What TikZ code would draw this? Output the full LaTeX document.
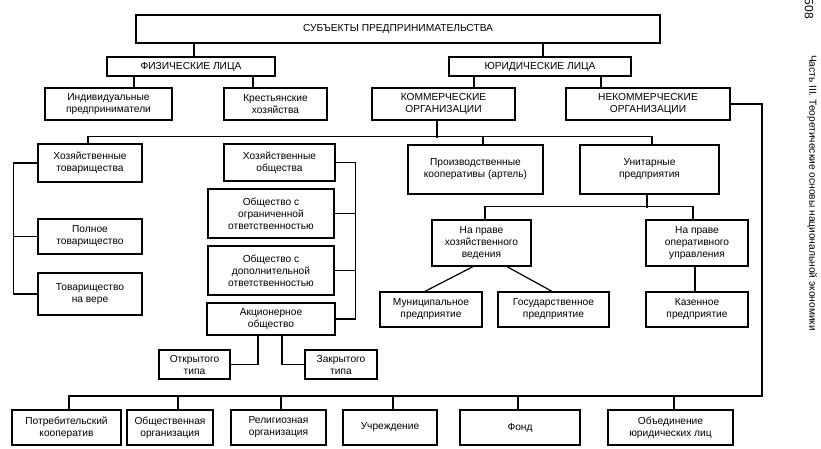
\documentclass[tikz,border=0pt]{standalone}
\usepackage{fontspec}
\setmainfont{Liberation Sans}
\usetikzlibrary{calc}
\begin{document}
\begin{tikzpicture}[x=1pt,y=-1pt,
  box/.style={draw=black,line width=1.3pt,align=center,inner sep=1pt,
    font=\fontsize{10.2}{12}\selectfont,fill=white},
  ln/.style={line width=1.2pt,draw=black}]
\useasboundingbox (0,0) rectangle (821,449);
% boxes
\node[box,minimum width=524,minimum height=28] (top) at (398,29) {СУБЪЕКТЫ ПРЕДПРИНИМАТЕЛЬСТВА};
\node[box,minimum width=168,minimum height=19] (fiz) at (191,66.5) {ФИЗИЧЕСКИЕ ЛИЦА};
\node[box,minimum width=182,minimum height=19] (yur) at (540,66.5) {ЮРИДИЧЕСКИЕ ЛИЦА};
\node[box,minimum width=127,minimum height=32] (ind) at (108.5,104) {Индивидуальные\\предприниматели};
\node[box,minimum width=103,minimum height=32] (krest) at (275.5,104) {Крестьянские\\хозяйства};
\node[box,minimum width=143,minimum height=32] (kom) at (443.5,104) {КОММЕРЧЕСКИЕ\\ОРГАНИЗАЦИИ};
\node[box,minimum width=164,minimum height=32] (nekom) at (648,104) {НЕКОММЕРЧЕСКИЕ\\ОРГАНИЗАЦИИ};
\node[box,minimum width=104,minimum height=38] (hoztov) at (90,163) {Хозяйственные\\товарищества};
\node[box,minimum width=111,minimum height=37] (hozob) at (279.5,162.5) {Хозяйственные\\общества};
\node[box,minimum width=135,minimum height=49] (proizv) at (475.5,169.5) {Производственные\\кооперативы (артель)};
\node[box,minimum width=139,minimum height=49] (unit) at (649.5,169.5) {Унитарные\\предприятия};
\node[box,minimum width=104,minimum height=35] (poln) at (90,236.5) {Полное\\товарищество};
\node[box,minimum width=104,minimum height=42] (vera) at (90,294) {Товарищество\\на вере};
\node[box,minimum width=126,minimum height=49] (ooo) at (271,213.5) {Общество с\\ограниченной\\ответственностью};
\node[box,minimum width=126,minimum height=49] (odo) at (271,270.5) {Общество с\\дополнительной\\ответственностью};
\node[box,minimum width=128,minimum height=32] (ao) at (271,319) {Акционерное\\общество};
\node[box,minimum width=71,minimum height=29] (otkr) at (194.5,364.5) {Открытого\\типа};
\node[box,minimum width=72,minimum height=29] (zakr) at (341,364.5) {Закрытого\\типа};
\node[box,minimum width=99,minimum height=46] (hozved) at (481.5,243) {На праве\\хозяйственного\\ведения};
\node[box,minimum width=102,minimum height=46] (oper) at (697,243) {На праве\\оперативного\\управления};
\node[box,minimum width=102,minimum height=35] (mun) at (431,309.5) {Муниципальное\\предприятие};
\node[box,minimum width=111,minimum height=35] (gos) at (553.5,309.5) {Государственное\\предприятие};
\node[box,minimum width=102,minimum height=35] (kaz) at (697,309.5) {Казенное\\предприятие};
\node[box,minimum width=109,minimum height=35] (potr) at (66.5,427.5) {Потребительский\\кооператив};
\node[box,minimum width=86,minimum height=35] (obsch) at (170,427.5) {Общественная\\организация};
\node[box,minimum width=95,minimum height=35] (relig) at (278.5,427.5) {Религиозная\\организация};
\node[box,minimum width=94,minimum height=35] (uchr) at (390,427.5) {Учреждение};
\node[box,minimum width=120,minimum height=35] (fond) at (520,427.5) {Фонд};
\node[box,minimum width=125,minimum height=35] (obyed) at (670.5,427.5) {Объединение\\юридических лиц};
% page header
\node[rotate=-90,font=\fontsize{12}{13}\selectfont,inner sep=0pt] (pg) at (809,9) {508};
\node[rotate=-90,font=\fontsize{10.2}{11}\selectfont,inner sep=0pt] (hdr) at (812,193) {Часть III. Теоретические основы национальной экономики};
% connectors
\coordinate (bb) at (762,396);
\draw[ln] ([xshift=3pt]fiz.north) -- ([xshift=3pt]fiz.north |- top.south);
\draw[ln] ([xshift=3pt]yur.north) -- ([xshift=3pt]yur.north |- top.south);
\draw[ln] ([xshift=-57pt]fiz.south) -- ([xshift=-57pt]fiz.south |- ind.north);
\draw[ln] ([xshift=62pt]fiz.south) -- ([xshift=62pt]fiz.south |- krest.north);
\draw[ln] ([xshift=-66pt]yur.south) -- ([xshift=-66pt]yur.south |- kom.north);
\draw[ln] ([xshift=61pt]yur.south) -- ([xshift=61pt]yur.south |- nekom.north);
\draw[ln] ([xshift=-6.5pt]kom.south) -- ++(0,17);
\draw[ln] ([xshift=-2pt]hoztov.north) -- ++(0,-7) -| ([xshift=2.5pt]unit.north);
\draw[ln] ([xshift=7.5pt]proizv.north) -- ++(0,-8);
\draw[ln] (hoztov.west) -- ++(-24,0) |- (vera.west);
\draw[ln] (poln.west) -- ++(-24,0);
\draw[ln] (hozob.east) -- ++(20,0) |- (ao.east);
\draw[ln] (ooo.east) -- ++(21,0);
\draw[ln] (odo.east) -- ++(21,0);
\draw[ln] ([xshift=-13pt]ao.south) |- (otkr.east);
\draw[ln] ([xshift=11pt]ao.south) |- (zakr.west);
\draw[ln] ([xshift=-2.5pt]unit.south) -- ++(0,13);
\draw[ln] ([xshift=3.5pt]hozved.north) -- ++(0,-13) -| ([xshift=-4pt]oper.north);
\draw[ln] ([xshift=-8.5pt]hozved.south) -- ([xshift=-6pt]mun.north);
\draw[ln] ([xshift=25.5pt]hozved.south) -- ([xshift=-1.5pt]gos.north);
\draw[ln] ([xshift=-2pt]oper.south) -- ([xshift=-2pt]kaz.north);
\draw[ln] (nekom.east) -| (bb) -- ([xshift=2.5pt]potr.north |- bb) -- ([xshift=2.5pt]potr.north);
\draw[ln] ([xshift=8pt]obsch.north) -- ([xshift=8pt]obsch.north |- bb);
\draw[ln] ([xshift=2.5pt]relig.north) -- ([xshift=2.5pt]relig.north |- bb);
\draw[ln] ([xshift=3pt]uchr.north) -- ([xshift=3pt]uchr.north |- bb);
\draw[ln] ([xshift=-2pt]fond.north) -- ([xshift=-2pt]fond.north |- bb);
\draw[ln] ([xshift=3.5pt]obyed.north) -- ([xshift=3.5pt]obyed.north |- bb);
\end{tikzpicture}
\end{document}
